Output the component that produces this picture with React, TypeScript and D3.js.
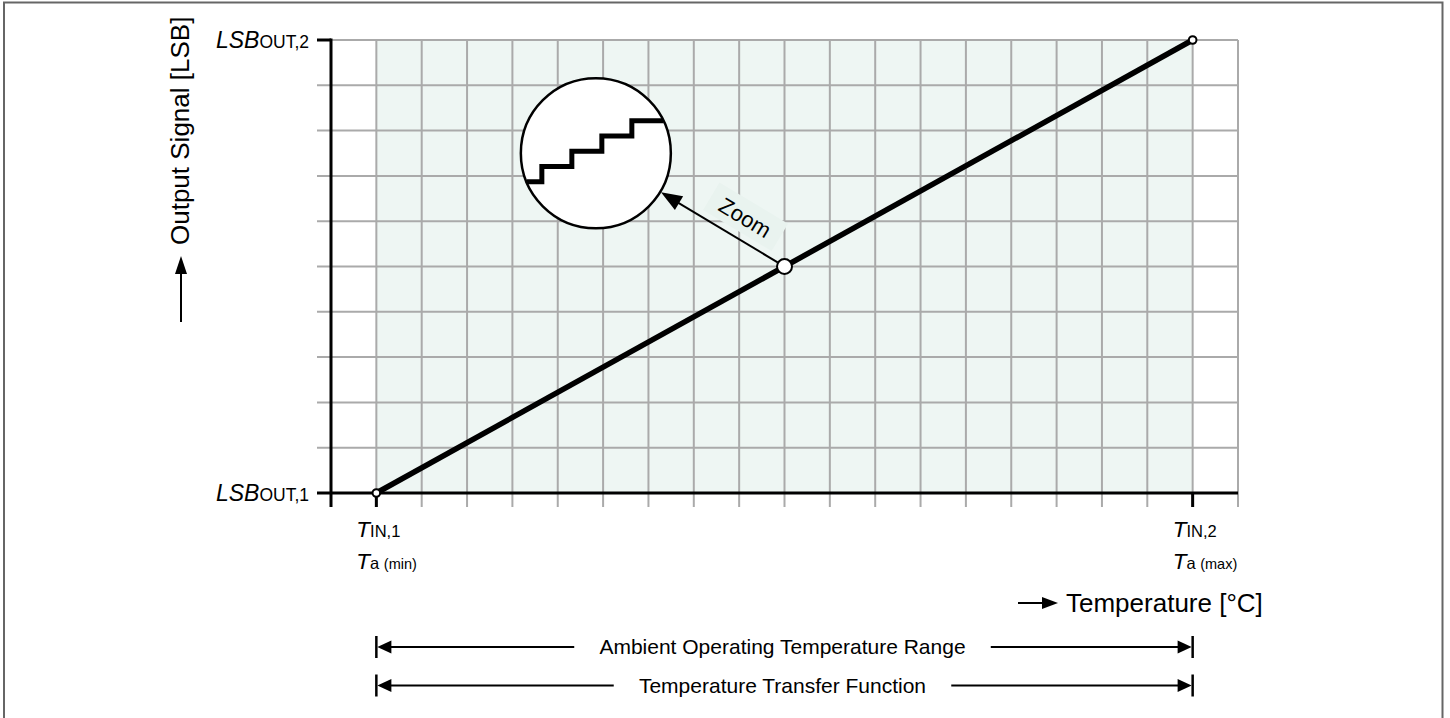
import * as d3 from "d3";

const W = 1450;
const H = 718;
const FONT = "'Liberation Sans', Arial, Helvetica, sans-serif";

// chart domain in grid units (one unit = one grid cell)
const tempDomain = [-1, 19];
const lsbDomain = [0, 10];

// transfer function end points
const transferTemp = [0, 18];
const transferLsb = [0, 10];

// point that is magnified
const zoomPointTemp = 9;
const zoomPointLsb = 5;

// centre of the magnifier circle
const lensTemp = 4.84;
const lensLsb = 7.5;
const lensRadius = 75;

// staircase inside the magnifier
const stairStep = [0.5, 1, 2, 3, 4, 5.05];
const stairCode = [0, 1, 2, 3, 4, 4];

// tick labels
const yTickValues = [0, 10];
const yTickMain = ["LSB", "LSB"];
const yTickSub = ["OUT,1", "OUT,2"];
const xTickValues = [0, 18];
const xTickSub = ["IN,1", "IN,2"];
const xTickExtreme = ["(min)", "(max)"];

const rangeLabels = ["Ambient Operating Temperature Range", "Temperature Transfer Function"];

const x = d3.scaleLinear().domain(tempDomain).range([331, 1238]);
const y = d3.scaleLinear().domain(lsbDomain).range([493, 40]);

function measure(text: string, size: number) {
  const ctx = document.createElement("canvas").getContext("2d");
  if (!ctx) return text.length * size * 0.5;
  ctx.font = `${size}px ${FONT}`;
  return ctx.measureText(text).width;
}

// filled triangle with its tip at (tx, ty), pointing along angle a (radians)
function arrowHead(tx: number, ty: number, a: number, len: number, half: number) {
  const c = Math.cos(a), s = Math.sin(a);
  const bx = tx - c * len, by = ty - s * len;
  return `M${tx},${ty}L${bx - s * half},${by + c * half}L${bx + s * half},${by - c * half}Z`;
}

export default function App() {
  const gridX = x.ticks(20);
  const gridY = y.ticks(10);
  const x0 = x(transferTemp[0]);
  const x1 = x(transferTemp[1]);

  const line = d3.line<number>()
    .x((_, i) => x(transferTemp[i]))
    .y((d) => y(d));

  // magnifier
  const cx = x(lensTemp);
  const cy = y(lensLsb);
  const insetX = d3.scaleLinear().domain([0, 5]).range([cx - 84, cx + 66]);
  const insetY = d3.scaleLinear().domain([0, 4]).range([cy + 28.5, cy - 32.5]);
  const stairs = d3.line<number>()
    .x((_, i) => insetX(stairStep[i]))
    .y((d) => insetY(d))
    .curve(d3.curveStepAfter);

  // zoom arrow from marker to the lens
  const mx = x(zoomPointTemp);
  const my = y(zoomPointLsb);
  const dx = cx - mx, dy = cy - my;
  const dist = Math.hypot(dx, dy);
  const ux = dx / dist, uy = dy / dist;
  const ax0 = mx + ux * 8, ay0 = my + uy * 8;
  const ax1 = mx + ux * (dist - lensRadius - 1), ay1 = my + uy * (dist - lensRadius - 1);
  const ang = Math.atan2(uy, ux);
  const labelAngle = (Math.atan2(-uy, -ux) * 180) / Math.PI;
  const lx = mx + ux * 59 - uy * 21.6;
  const ly = my + uy * 59 + ux * 21.6;

  const rangeY = [647, 685.5];

  return (
    <svg width={W} height={H} style={{ position: "absolute", left: 0, top: 0, background: "#fff" }} fontFamily={FONT}>
      <defs>
        <clipPath id="lens">
          <circle cx={cx} cy={cy} r={lensRadius} />
        </clipPath>
      </defs>

      <path d={`M4,${H + 5}V2.5H1442.5V${H + 5}`} fill="none" stroke="#666" strokeWidth={2} />

      {/* shaded transfer region */}
      <rect x={x0} y={y(lsbDomain[1])} width={x1 - x0} height={y(lsbDomain[0]) - y(lsbDomain[1])} fill="#eef6f3" />

      {/* grid */}
      {gridY.map((v) => (
        <line key={`gy${v}`} x1={317} x2={x(tempDomain[1])} y1={y(v)} y2={y(v)} stroke="#aaa" strokeWidth={2} />
      ))}
      {gridX.map((v) => (
        <line key={`gx${v}`} x1={x(v)} x2={x(v)} y1={y(lsbDomain[1])} y2={507} stroke="#aaa" strokeWidth={2} />
      ))}

      {/* axes */}
      <line x1={x(tempDomain[0])} x2={x(tempDomain[0])} y1={y(lsbDomain[1]) - 1.5} y2={507} stroke="#000" strokeWidth={3} />
      <line x1={317} x2={x(tempDomain[1])} y1={y(0)} y2={y(0)} stroke="#000" strokeWidth={3} />
      <line x1={317} x2={x(tempDomain[0])} y1={y(10)} y2={y(10)} stroke="#000" strokeWidth={3} />
      {xTickValues.map((v) => (
        <line key={`xt${v}`} x1={x(v)} x2={x(v)} y1={y(0)} y2={507} stroke="#000" strokeWidth={3} />
      ))}

      {/* y tick labels */}
      {yTickValues.map((v, i) => (
        <text key={`yl${v}`} x={309} y={y(v) + 8} textAnchor="end" fontSize={23} fill="#000">
          <tspan fontStyle="italic">{yTickMain[i]}</tspan>
          <tspan fontSize={17.5}>{yTickSub[i]}</tspan>
        </text>
      ))}

      {/* x tick labels */}
      {xTickValues.map((v, i) => (
        <g key={`xl${v}`}>
          <text x={x(v) - 20} y={537} fontSize={22.5} fill="#000">
            <tspan fontStyle="italic">T</tspan>
            <tspan fontSize={16.5}>{xTickSub[i]}</tspan>
          </text>
          <text x={x(v) - 20} y={569} fontSize={22.5} fill="#000">
            <tspan fontStyle="italic">T</tspan>
            <tspan fontSize={16.5}>a </tspan>
            <tspan fontSize={14.5}>{xTickExtreme[i]}</tspan>
          </text>
        </g>
      ))}

      {/* transfer function */}
      <path d={line(transferLsb) ?? ""} fill="none" stroke="#000" strokeWidth={5.5} />
      {transferTemp.map((t, i) => (
        <circle key={`ep${t}`} cx={x(t)} cy={y(transferLsb[i])} r={3.8} fill="#fff" stroke="#000" strokeWidth={2} />
      ))}

      {/* zoom arrow + label */}
      <line x1={ax0} y1={ay0} x2={ax1 - ux * 12} y2={ay1 - uy * 12} stroke="#000" strokeWidth={2} />
      <path d={arrowHead(ax1, ay1, ang, 21, 8)} fill="#000" />
      <g transform={`translate(${lx},${ly}) rotate(${labelAngle})`}>
        <rect x={-40} y={-17} width={80} height={32} fill="#e9f3ef" />
        <text x={0} y={0} dy="0.35em" textAnchor="middle" fontSize={22} fill="#000">Zoom</text>
      </g>
      <circle cx={mx} cy={my} r={7.5} fill="#fff" stroke="#000" strokeWidth={2} />

      {/* magnifier */}
      <circle cx={cx} cy={cy} r={lensRadius} fill="#fff" stroke="#000" strokeWidth={2.5} />
      <path d={stairs(stairCode) ?? ""} fill="none" stroke="#000" strokeWidth={5} clipPath="url(#lens)" />

      {/* y axis title */}
      <line x1={181} x2={181} y1={322} y2={270} stroke="#000" strokeWidth={2} />
      <path d={arrowHead(181, 256, -Math.PI / 2, 18, 6)} fill="#000" />
      <text transform="translate(189,245) rotate(-90)" fontSize={26} fill="#000">Output Signal [LSB]</text>

      {/* x axis title */}
      <line x1={1018} x2={1045} y1={603} y2={603} stroke="#000" strokeWidth={2} />
      <path d={arrowHead(1058, 603, 0, 16, 6)} fill="#000" />
      <text x={1066} y={612} fontSize={26} fill="#000">Temperature [°C]</text>

      {/* range indicators */}
      {rangeLabels.map((label, i) => {
        const cyR = rangeY[i];
        const mid = (x0 + x1) / 2 - 2;
        const w = measure(label, 21);
        const gap = 25;
        return (
          <g key={label}>
            <line x1={x0} x2={x0} y1={cyR - 11} y2={cyR + 11} stroke="#000" strokeWidth={2.5} />
            <line x1={x1} x2={x1} y1={cyR - 11} y2={cyR + 11} stroke="#000" strokeWidth={2.5} />
            <path d={arrowHead(x0 + 1, cyR, Math.PI, 14, 6.5)} fill="#000" />
            <path d={arrowHead(x1 - 1, cyR, 0, 14, 6.5)} fill="#000" />
            <line x1={x0 + 14} x2={mid - w / 2 - gap} y1={cyR} y2={cyR} stroke="#000" strokeWidth={2} />
            <line x1={mid + w / 2 + gap} x2={x1 - 14} y1={cyR} y2={cyR} stroke="#000" strokeWidth={2} />
            <text x={mid} y={cyR + 7} textAnchor="middle" fontSize={21} fill="#000">{label}</text>
          </g>
        );
      })}
    </svg>
  );
}
